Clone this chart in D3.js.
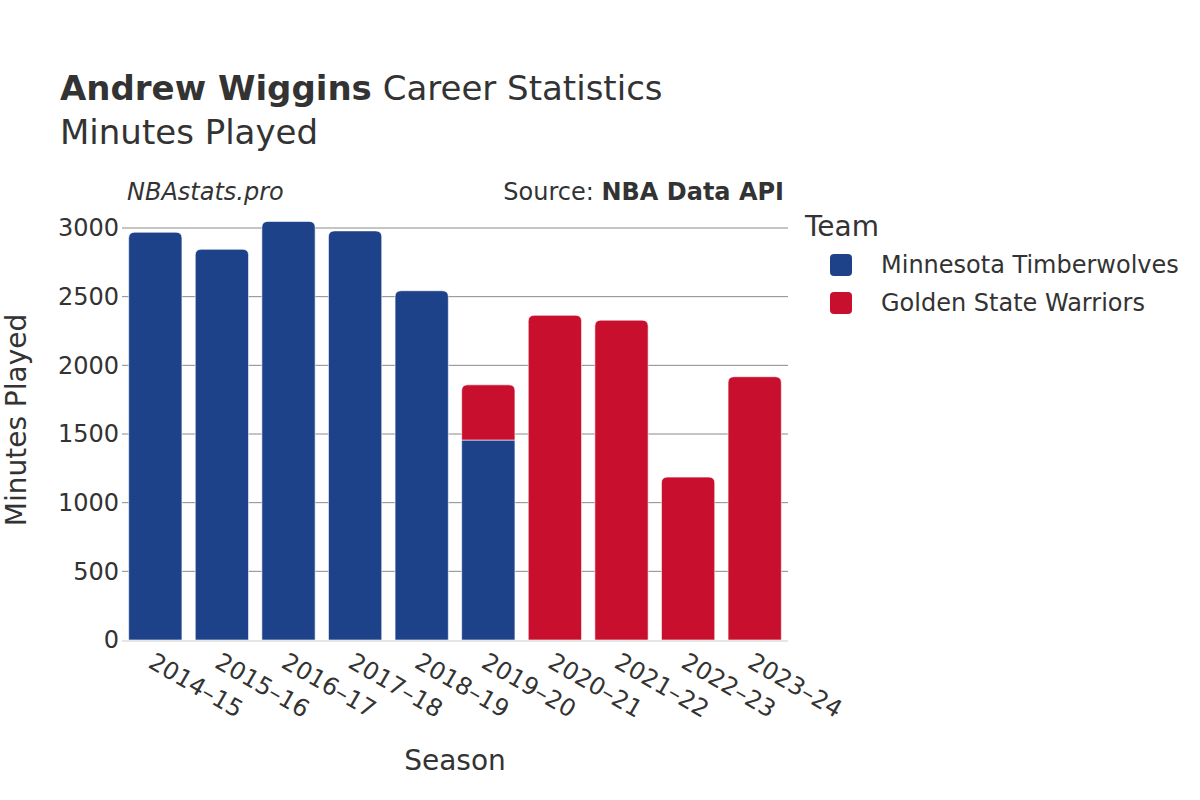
<!DOCTYPE html>
<html><head><meta charset="utf-8">
<script src="https://cdn.jsdelivr.net/npm/d3@7"></script>
<style>body{margin:0;background:#fff}svg{font-family:"DejaVu Sans",sans-serif}</style>
</head><body><svg id="c" width="1200" height="800"></svg>
<script>
const seasons = ["2014–15","2015–16","2016–17","2017–18","2018–19","2019–20","2020–21","2021–22","2022–23","2023–24"];
const minValues = [2969,2845,3048,2979,2543,1456,0,0,0,0];
const gswValues = [0,0,0,0,0,402,2364,2329,1186,1917];
const teams = ["Minnesota Timberwolves","Golden State Warriors"];
const teamColors = ["#1d4289","#c8102e"];
const yTicks = [0,500,1000,1500,2000,2500,3000];

const svg = d3.select("#c");
const L=122,R=788,T=210,B=640;
const x = d3.scaleBand().domain(seasons).range([L,R]).paddingInner(0.2).paddingOuter(0.1);
const y = d3.scaleLinear().domain([0,3200]).range([B,B-(3200/3000)*(B-228)]);
const col="#333";

// grid
svg.append("g").selectAll("line").data(yTicks.filter(d=>d>0)).join("line")
 .attr("x1",L).attr("x2",R).attr("y1",d=>y(d)).attr("y2",d=>y(d))
 .attr("stroke","#8a8a8a").attr("stroke-width",1);

// bars
const stackData = seasons.map((s,i)=>({s, mn:minValues[i], gs:gswValues[i]}));
const stack = d3.stack().keys(["mn","gs"])(stackData);
function barPath(x0,w,y0,y1,rTop){
  const r=Math.min(rTop,(y0-y1)/2,w/2);
  return `M${x0},${y0}V${y1+r}Q${x0},${y1} ${x0+r},${y1}H${x0+w-r}Q${x0+w},${y1} ${x0+w},${y1+r}V${y0}Z`;
}
stack.forEach((layer,li)=>{
  svg.append("g").selectAll("path").data(layer.filter(d=>d[1]-d[0]>0)).join("path")
   .attr("d",d=>{
     const i=seasons.indexOf(d.data.s);
     const isTop = li===1 || gswValues[i]===0;
     return barPath(x(d.data.s),x.bandwidth(),y(d[0]),y(d[1]),isTop?6:0);
   })
   .attr("fill",teamColors[li]).attr("stroke","#fff").attr("stroke-width",0.6);
});

// zero line
svg.append("line").attr("x1",L).attr("x2",R).attr("y1",y(0)+1).attr("y2",y(0)+1)
 .attr("stroke","#e6e6e6").attr("stroke-width",2);

// y axis labels
svg.append("g").selectAll("text").data(yTicks).join("text")
 .attr("x",L-3).attr("y",d=>y(d)).attr("dy","0.35em").attr("text-anchor","end")
 .attr("font-size",24).attr("fill",col).text(d=>d);

// x axis labels
svg.append("g").selectAll("text").data(seasons).join("text")
 .attr("transform",d=>`translate(${x(d)+x.bandwidth()/2},${B+12}) rotate(30)`)
 .attr("dy","0.7em").attr("text-anchor","start")
 .attr("font-size",24).attr("fill",col).text(d=>d);

// titles
const t=svg.append("text").attr("x",60).attr("y",100).attr("font-size",34).attr("fill",col);
t.append("tspan").attr("font-weight","bold").text("Andrew Wiggins");
t.append("tspan").text(" Career Statistics");
svg.append("text").attr("x",60).attr("y",144).attr("font-size",34).attr("fill",col).text("Minutes Played");
svg.append("text").attr("x",127).attr("y",200).attr("font-size",24).attr("font-style","italic").attr("fill",col).text("NBAstats.pro");
const s=svg.append("text").attr("x",784).attr("y",200).attr("text-anchor","end").attr("font-size",24).attr("fill",col);
s.append("tspan").text("Source: ");
s.append("tspan").attr("font-weight","bold").text("NBA Data API");

svg.append("text").attr("x",455).attr("y",770).attr("text-anchor","middle").attr("font-size",28).attr("fill",col).text("Season");
svg.append("text").attr("transform","translate(26,420) rotate(-90)").attr("text-anchor","middle").attr("font-size",28).attr("fill",col).text("Minutes Played");

// legend
svg.append("text").attr("x",805).attr("y",236).attr("font-size",28).attr("fill",col).text("Team");
const lg=svg.append("g").selectAll("g").data(teams).join("g")
 .attr("transform",(d,i)=>`translate(830,${265+i*38})`);
lg.append("rect").attr("x",0).attr("y",-11).attr("width",22).attr("height",22).attr("rx",4)
 .attr("fill",(d,i)=>teamColors[i]);
lg.append("text").attr("x",51).attr("y",0).attr("dy","0.35em").attr("font-size",24).attr("fill",col).text(d=>d);
</script></body></html>
